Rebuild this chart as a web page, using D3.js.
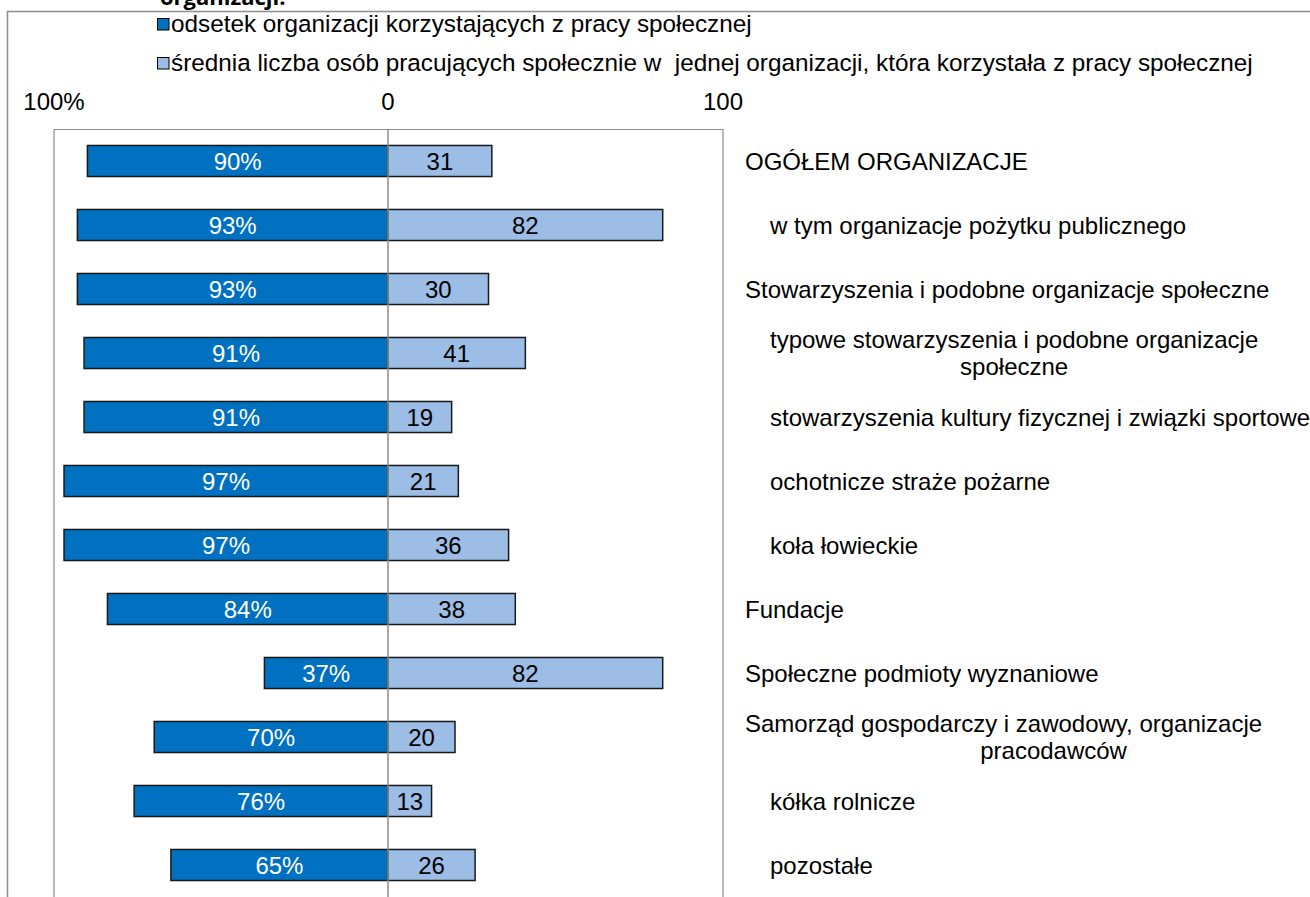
<!DOCTYPE html>
<html>
<head>
<meta charset="utf-8">
<script src="https://cdn.jsdelivr.net/npm/d3@7"></script>
<style>
  body { margin: 0; background: #fff; }
  svg { display: block; font-family: "Liberation Sans", Arial, sans-serif; }
</style>
</head>
<body>
<svg width="1310" height="897"></svg>
<script>
// categories (level 1 = indented sub-category, \n = wrapped line)
const categories = [
  "OGÓŁEM ORGANIZACJE",
  "w tym organizacje pożytku publicznego",
  "Stowarzyszenia i podobne organizacje społeczne",
  "typowe stowarzyszenia i podobne organizacje\nspołeczne",
  "stowarzyszenia kultury fizycznej i związki sportowe",
  "ochotnicze straże pożarne",
  "koła łowieckie",
  "Fundacje",
  "Społeczne podmioty wyznaniowe",
  "Samorząd gospodarczy i zawodowy, organizacje\npracodawców",
  "kółka rolnicze",
  "pozostałe"
];
const levels = [0, 1, 0, 1, 1, 1, 1, 0, 0, 0, 1, 1];

// series
const pctUsing = [90, 93, 93, 91, 91, 97, 97, 84, 37, 70, 76, 65];
const avgVolunteers = [31, 82, 30, 41, 19, 21, 36, 38, 82, 20, 13, 26];

const seriesNames = [
  "odsetek organizacji korzystających z pracy społecznej",
  "średnia liczba osób pracujących społecznie w  jednej organizacji, która korzystała z pracy społecznej"
];
const leftTicks = [100];
const rightTicks = [0, 100];

const svg = d3.select("svg");
const fs = 24;
const dark = "#0070c0", light = "#9bbde6", frame = "#8c8c8c";

// title, cut off at the top like in the source
svg.append("text")
  .attr("x", 160).attr("y", 5)
  .attr("font-family", "'Open Sans', sans-serif")
  .attr("font-weight", "bold").attr("font-size", 22)
  .text("organizacji.");

// outer frame (top + left)
svg.append("path")
  .attr("d", "M7.5,897 V11.5 H1310")
  .attr("fill", "none").attr("stroke", frame).attr("stroke-width", 1.5);

// scales
const xLeft = d3.scaleLinear().domain([0, 100]).range([388, 54]);
const xRight = d3.scaleLinear().domain([0, 100]).range([388, 723]);
const y = d3.scaleBand().domain(d3.range(categories.length)).range([129, 897]).paddingInner(0.515).paddingOuter(0.2575);

// plot box
svg.append("path")
  .attr("d", `M${xLeft(100)},897 V${129.5} H${xRight(100)} V897`)
  .attr("fill", "none").attr("stroke", frame).attr("stroke-width", 1.2);

// legend
const legend = svg.append("g");
seriesNames.forEach((name, i) => {
  const ly = 32 + i * 39;
  legend.append("rect")
    .attr("x", 157.5).attr("y", ly - 13.5).attr("width", 11.5).attr("height", 11.5)
    .attr("fill", i === 0 ? dark : light).attr("stroke", "#000").attr("stroke-width", 1);
  legend.append("text")
    .attr("x", 171).attr("y", ly)
    .attr("font-size", 24.3).attr("xml:space", "preserve").style("white-space", "pre")
    .text(name);
});

// tick labels
svg.append("g").selectAll("text").data(leftTicks).join("text")
  .attr("x", d => xLeft(d)).attr("y", 110)
  .attr("text-anchor", "middle").attr("font-size", fs)
  .text(d => d + "%");
svg.append("g").selectAll("text").data(rightTicks).join("text")
  .attr("x", d => xRight(d)).attr("y", 110)
  .attr("text-anchor", "middle").attr("font-size", fs)
  .text(d => d);

// bars
const rows = svg.append("g");
rows.selectAll("rect.l").data(pctUsing).join("rect")
  .attr("class", "l")
  .attr("x", d => xLeft(d)).attr("y", (d, i) => y(i))
  .attr("width", d => xLeft(0) - xLeft(d)).attr("height", y.bandwidth())
  .attr("fill", dark).attr("stroke", "#1a1a1a").attr("stroke-width", 1.5);
rows.selectAll("rect.r").data(avgVolunteers).join("rect")
  .attr("class", "r")
  .attr("x", xRight(0)).attr("y", (d, i) => y(i))
  .attr("width", d => xRight(d) - xRight(0)).attr("height", y.bandwidth())
  .attr("fill", light).attr("stroke", "#1a1a1a").attr("stroke-width", 1.5);

// centre axis line
svg.append("line")
  .attr("x1", 388).attr("x2", 388).attr("y1", 129).attr("y2", 897)
  .attr("stroke", frame).attr("stroke-width", 1.5);

// value labels
rows.selectAll("text.l").data(pctUsing).join("text")
  .attr("class", "l")
  .attr("x", d => (xLeft(d) + xLeft(0)) / 2).attr("y", (d, i) => y(i) + y.bandwidth() / 2 + 8.5)
  .attr("text-anchor", "middle").attr("font-size", fs).attr("fill", "#fff")
  .text(d => d + "%");
rows.selectAll("text.r").data(avgVolunteers).join("text")
  .attr("class", "r")
  .attr("x", d => (xRight(d) + xRight(0)) / 2).attr("y", (d, i) => y(i) + y.bandwidth() / 2 + 8.5)
  .attr("text-anchor", "middle").attr("font-size", fs).attr("fill", "#000")
  .text(d => d);

// category labels
categories.forEach((label, i) => {
  const lines = label.split("\n");
  const x0 = 745 + levels[i] * 25;
  const cy = y(i) + y.bandwidth() / 2;
  const top = cy - (lines.length - 1) * 13.5 + 8.5;
  const first = svg.append("text")
    .attr("x", x0).attr("y", top).attr("font-size", fs).text(lines[0]);
  // wrapped lines are centred; top-level labels sit a bit right of the first line's middle
  const mid = x0 + first.node().getComputedTextLength() / 2 + (levels[i] === 0 ? 50 : 0);
  lines.slice(1).forEach((ln, j) => {
    svg.append("text")
      .attr("x", mid).attr("y", top + (j + 1) * 27)
      .attr("text-anchor", "middle").attr("font-size", fs).text(ln);
  });
});
</script>
</body>
</html>
